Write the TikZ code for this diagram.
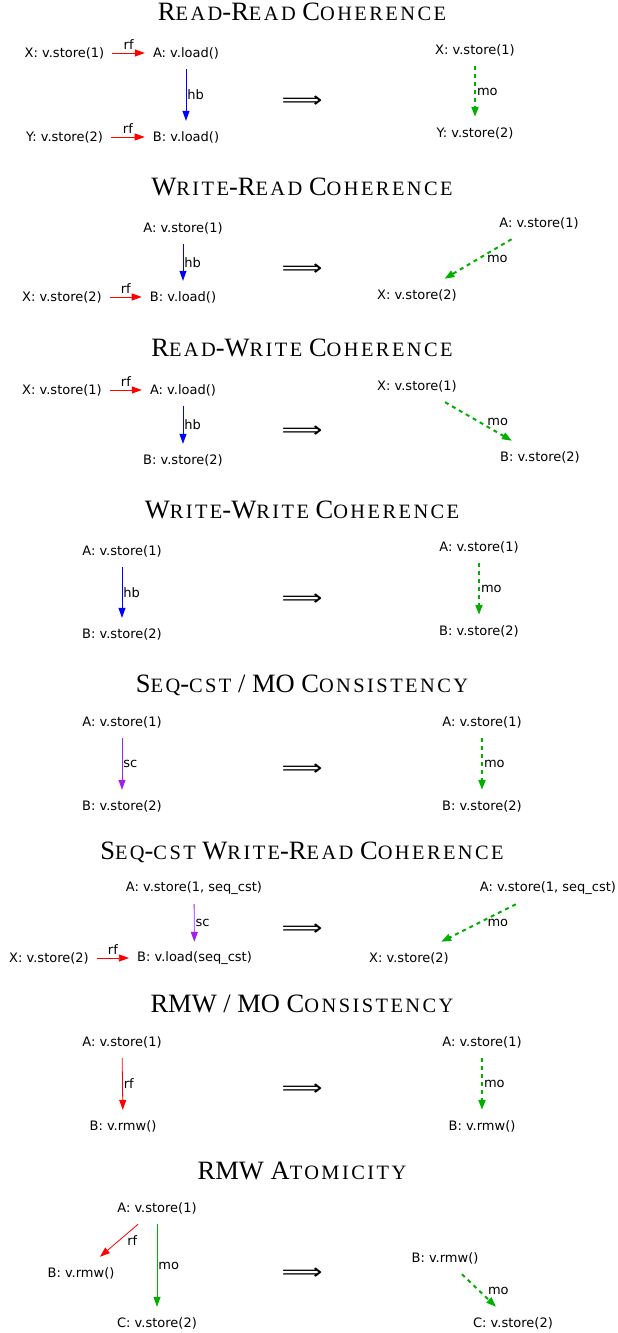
\documentclass[tikz,border=0pt]{standalone}
\usepackage{fontspec}
\setmainfont{Liberation Serif}
\newfontfamily\opfont{DejaVu Sans}
\newfontfamily\scfont[Scale=0.77,LetterSpace=12]{Liberation Serif}
\usetikzlibrary{arrows.meta}
\definecolor{mogreen}{RGB}{0,176,0}
\definecolor{scpurple}{RGB}{160,32,240}
\newcommand\sm[1]{{\scfont #1}}
\newcommand\implsign{\scalebox{1.3}[1]{⟹}}

\begin{document}
\begin{tikzpicture}[x=1pt,y=-1pt,
    op/.style={font=\opfont\fontsize{13}{15}\selectfont, inner xsep=8pt, inner ysep=0pt, minimum height=32pt},
    lbl/.style={font=\opfont\fontsize{13}{15}\selectfont, text=black, inner sep=1pt},
    ttl/.style={font=\fontsize{26.5}{30}\selectfont, inner sep=0pt, anchor=base},
    impl/.style={font=\opfont\fontsize{22}{22}\selectfont, inner sep=0pt, yshift=-2pt},
    relarr/.style={-{Triangle[length=10pt,width=7pt]}, line width=0.8pt},
    rfarr/.style={relarr, red},
    hbarr/.style={relarr, blue},
    scarr/.style={relarr, scpurple},
    moarr/.style={relarr, mogreen},
    modash/.style={moarr, line width=2pt, dash pattern=on 4pt off 4pt}]
    \useasboundingbox (0,0) rectangle (618,1333);

    \node[ttl] (rrT) at (302,20) {R\sm{EAD}-R\sm{EAD} C\sm{OHERENCE}};
    \node[op] (rrX) at (64.5,53) {X: v.store(1)};
    \node[op] (rrA) at (186,53) {A: v.load()};
    \node[op] (rrY) at (64.5,137) {Y: v.store(2)};
    \node[op] (rrB) at (186,137) {B: v.load()};
    \node[impl] (rrI) at (302,100) {\implsign};
    \node[op] (rrXr) at (475,50) {X: v.store(1)};
    \node[op] (rrYr) at (475,133) {Y: v.store(2)};
    \draw[rfarr] (rrX) -- node[lbl, above=2pt] {rf} (rrA);
    \draw[rfarr] (rrY) -- node[lbl, above=2pt] {rf} (rrB);
    \draw[hbarr] (rrA) -- node[lbl, right] {hb} (rrB);
    \draw[modash] (rrXr) -- node[lbl, right] {mo} (rrYr);

    \node[ttl] (wrT) at (302,195) {W\sm{RITE}-R\sm{EAD} C\sm{OHERENCE}};
    \node[op] (wrA) at (183,228) {A: v.store(1)};
    \node[op] (wrX) at (62,297) {X: v.store(2)};
    \node[op] (wrB) at (183,297) {B: v.load()};
    \node[impl] (wrI) at (302,268) {\implsign};
    \node[op] (wrAr) at (539,223) {A: v.store(1)};
    \node[op] (wrXr) at (417,295) {X: v.store(2)};
    \draw[hbarr] (wrA) -- node[lbl, right] {hb} (wrB);
    \draw[rfarr] (wrX) -- node[lbl, above=2pt] {rf} (wrB);
    \draw[modash] (wrAr) -- node[lbl, right=7pt] {mo} (wrXr);

    \node[ttl] (rwT) at (302,356) {R\sm{EAD}-W\sm{RITE} C\sm{OHERENCE}};
    \node[op] (rwX) at (62,390) {X: v.store(1)};
    \node[op] (rwA) at (183,390) {A: v.load()};
    \node[op] (rwB) at (183,460) {B: v.store(2)};
    \node[impl] (rwI) at (302,430) {\implsign};
    \node[op] (rwXr) at (417,386) {X: v.store(1)};
    \node[op] (rwBr) at (540,457) {B: v.store(2)};
    \draw[rfarr] (rwX) -- node[lbl, above=2pt] {rf} (rwA);
    \draw[hbarr] (rwA) -- node[lbl, right] {hb} (rwB);
    \draw[modash] (rwXr) -- node[lbl, right=7pt] {mo} (rwBr);

    \node[ttl] (wwT) at (302,518) {W\sm{RITE}-W\sm{RITE} C\sm{OHERENCE}};
    \node[op] (wwA) at (122,551) {A: v.store(1)};
    \node[op] (wwB) at (122,634) {B: v.store(2)};
    \node[impl] (wwI) at (302,598) {\implsign};
    \node[op] (wwAr) at (479,547) {A: v.store(1)};
    \node[op] (wwBr) at (479,631) {B: v.store(2)};
    \draw[hbarr] (wwA) -- node[lbl, right] {hb} (wwB);
    \draw[modash] (wwAr) -- node[lbl, right] {mo} (wwBr);

    \node[ttl] (smT) at (302,692) {S\sm{EQ}-\sm{CST} / MO C\sm{ONSISTENCY}};
    \node[op] (smA) at (122,722) {A: v.store(1)};
    \node[op] (smB) at (122,806) {B: v.store(2)};
    \node[impl] (smI) at (302,768) {\implsign};
    \node[op] (smAr) at (482,722) {A: v.store(1)};
    \node[op] (smBr) at (482,806) {B: v.store(2)};
    \draw[scarr] (smA) -- node[lbl, right] {sc} (smB);
    \draw[modash] (smAr) -- node[lbl, right] {mo} (smBr);

    \node[ttl] (swT) at (302,859) {S\sm{EQ}-\sm{CST} W\sm{RITE}-R\sm{EAD} C\sm{OHERENCE}};
    \node[op] (swA) at (194,888) {A: v.store(1, seq\_cst)};
    \node[op] (swX) at (49,958) {X: v.store(2)};
    \node[op] (swB) at (194.5,958) {B: v.load(seq\_cst)};
    \node[impl] (swI) at (302,928) {\implsign};
    \node[op] (swAr) at (548,888) {A: v.store(1, seq\_cst)};
    \node[op] (swXr) at (409,958) {X: v.store(2)};
    \draw[scarr] (swA) -- node[lbl, right] {sc} (swB);
    \draw[rfarr] (swX) -- node[lbl, above=2pt] {rf} (swB);
    \draw[modash] (swAr) -- node[lbl, right=7pt] {mo} (swXr);

    \node[ttl] (rmT) at (302,1012) {RMW / MO C\sm{ONSISTENCY}};
    \node[op] (rmA) at (122,1042) {A: v.store(1)};
    \node[op] (rmB) at (123,1126) {B: v.rmw()};
    \node[impl] (rmI) at (302,1088) {\implsign};
    \node[op] (rmAr) at (482,1042) {A: v.store(1)};
    \node[op] (rmBr) at (482,1126) {B: v.rmw()};
    \draw[rfarr] (rmA) -- node[lbl, right] {rf} (rmB);
    \draw[modash] (rmAr) -- node[lbl, right] {mo} (rmBr);

    \node[ttl] (atT) at (302,1179) {RMW A\sm{TOMICITY}};
    \node[op] (atA) at (157,1208) {A: v.store(1)};
    \node[op] (atB) at (81,1273) {B: v.rmw()};
    \node[op] (atC) at (157,1323) {C: v.store(2)};
    \node[impl] (atI) at (302,1272) {\implsign};
    \node[op] (atBr) at (445,1258) {B: v.rmw()};
    \node[op] (atCr) at (513,1323) {C: v.store(2)};
    \draw[rfarr] (atA) -- node[lbl, right=7pt] {rf} (atB);
    \draw[moarr] (atA) -- node[lbl, right] {mo} (atC);
    \draw[modash] (atBr) -- node[lbl, right=7pt] {mo} (atCr);
\end{tikzpicture}
\end{document}
